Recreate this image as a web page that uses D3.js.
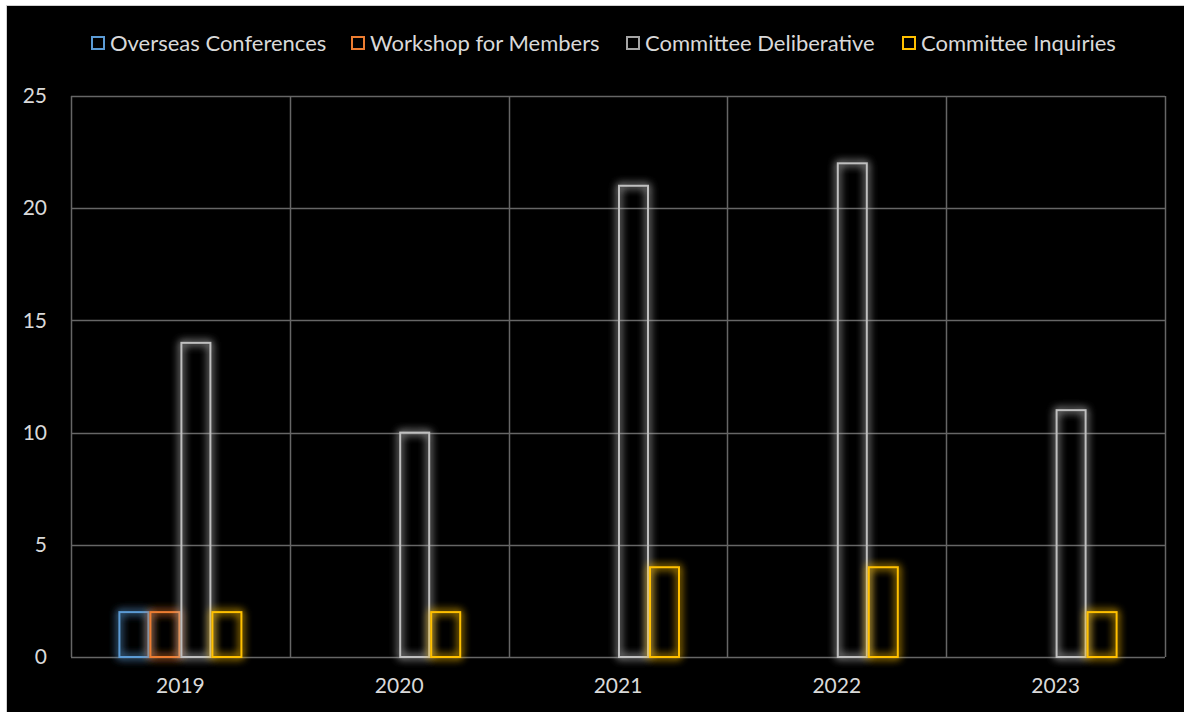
<!DOCTYPE html>
<html>
<head>
<meta charset="utf-8">
<script src="https://cdn.jsdelivr.net/npm/d3@7"></script>
<style>
  html, body { margin: 0; padding: 0; background: #ffffff; }
  svg { display: block; }
</style>
</head>
<body>
<svg id="chart" width="1184" height="712"></svg>
<script>
const years = ["2019", "2020", "2021", "2022", "2023"];
const seriesNames = ["Overseas Conferences", "Workshop for Members", "Committee Deliberative", "Committee Inquiries"];
const overseasConferences = [2, 0, 0, 0, 0];
const workshopForMembers = [2, 0, 0, 0, 0];
const committeeDeliberative = [14, 10, 21, 22, 11];
const committeeInquiries = [2, 2, 4, 4, 2];
const yTicks = [0, 5, 10, 15, 20, 25];
const seriesColors = ["#5b9bd5", "#ed7d31", "#bfbfbf", "#ffc000"];

const seriesValues = [overseasConferences, workshopForMembers, committeeDeliberative, committeeInquiries];

const W = 1184, H = 712;
const svg = d3.select("#chart");
const FONT = "Lato, 'Open Sans', sans-serif";

// chart background
svg.append("rect").attr("x", 6.5).attr("y", 5.5).attr("width", W).attr("height", H)
  .attr("fill", "#000").attr("stroke", "#d0d0d0").attr("stroke-width", 1);

// glow filter
const defs = svg.append("defs");
const f = defs.append("filter").attr("id", "glow")
  .attr("x", "-50%").attr("y", "-50%").attr("width", "200%").attr("height", "200%");
f.append("feGaussianBlur").attr("in", "SourceGraphic").attr("stdDeviation", 4).attr("result", "blur");
f.append("feComponentTransfer").attr("in", "blur").attr("result", "blur2")
  .append("feFuncA").attr("type", "linear").attr("slope", 1.9);
const fm = f.append("feMerge");
fm.append("feMergeNode").attr("in", "blur2");
fm.append("feMergeNode").attr("in", "SourceGraphic");

const plot = { left: 71, right: 1165, top: 96, bottom: 657 };

const x0 = d3.scaleBand().domain(years).range([plot.left, plot.right]).paddingInner(0).paddingOuter(0);
const groupW = 124;
const x1 = d3.scaleBand().domain(seriesNames).range([0, groupW]).padding(0);
const y = d3.scaleLinear().domain([0, 25]).range([plot.bottom, plot.top]);

// gridlines
const grid = svg.append("g");
grid.selectAll("line.h").data(yTicks).join("line")
  .attr("x1", plot.left).attr("x2", plot.right)
  .attr("y1", d => Math.round(y(d)) + 0.5).attr("y2", d => Math.round(y(d)) + 0.5)
  .attr("stroke", "#666666").attr("stroke-width", 1.5);
const vlines = years.map(d => x0(d)).concat([plot.right]);
grid.selectAll("line.v").data(vlines).join("line")
  .attr("x1", d => Math.round(d) + 0.5).attr("x2", d => Math.round(d) + 0.5)
  .attr("y1", plot.top).attr("y2", plot.bottom)
  .attr("stroke", "#666666").attr("stroke-width", 1.5);

// y axis labels
const yAxis = d3.axisLeft(y).tickValues(yTicks).tickSize(0).tickPadding(0);
const gy = svg.append("g").attr("transform", `translate(${plot.left - 24},0)`).call(yAxis);
gy.select(".domain").remove();
gy.selectAll("text").attr("fill", "#d9d9d9").style("font-family", FONT).style("font-size", "21px");

// x axis labels
const xAxis = d3.axisBottom(x0).tickSize(0).tickPadding(0);
const gx = svg.append("g").attr("transform", `translate(0,${plot.bottom + 21})`).call(xAxis);
gx.select(".domain").remove();
gx.selectAll("text").attr("fill", "#d9d9d9").style("font-family", FONT).style("font-size", "21px");

// bars
const barData = [];
years.forEach((yr, i) => {
  seriesNames.forEach((s, j) => {
    barData.push({ year: yr, series: s, value: seriesValues[j][i], color: seriesColors[j] });
  });
});
const offset = (x0.bandwidth() - groupW) / 2;
svg.append("g").selectAll("rect").data(barData.filter(d => d.value > 0)).join("rect")
  .attr("x", d => x0(d.year) + offset + x1(d.series) + 1)
  .attr("y", d => y(d.value))
  .attr("width", x1.bandwidth() - 2)
  .attr("height", d => y(0) - y(d.value))
  .attr("fill", "none")
  .attr("stroke", d => d.color)
  .attr("stroke-width", 2)
  .attr("filter", "url(#glow)");

// legend
const legendStarts = [91, 351, 626, 902];
const lg = svg.append("g");
seriesNames.forEach((s, j) => {
  const g = lg.append("g").attr("transform", `translate(${legendStarts[j]},37)`);
  g.append("rect").attr("x", 1).attr("y", 0).attr("width", 12).attr("height", 12)
    .attr("fill", "none").attr("stroke", seriesColors[j] === "#bfbfbf" ? "#a5a5a5" : seriesColors[j]).attr("stroke-width", 2);
  g.append("text").attr("x", 19).attr("y", 14)
    .attr("fill", "#d9d9d9").style("font-family", FONT).style("font-size", "22px").text(s);
});
</script>
</body>
</html>
